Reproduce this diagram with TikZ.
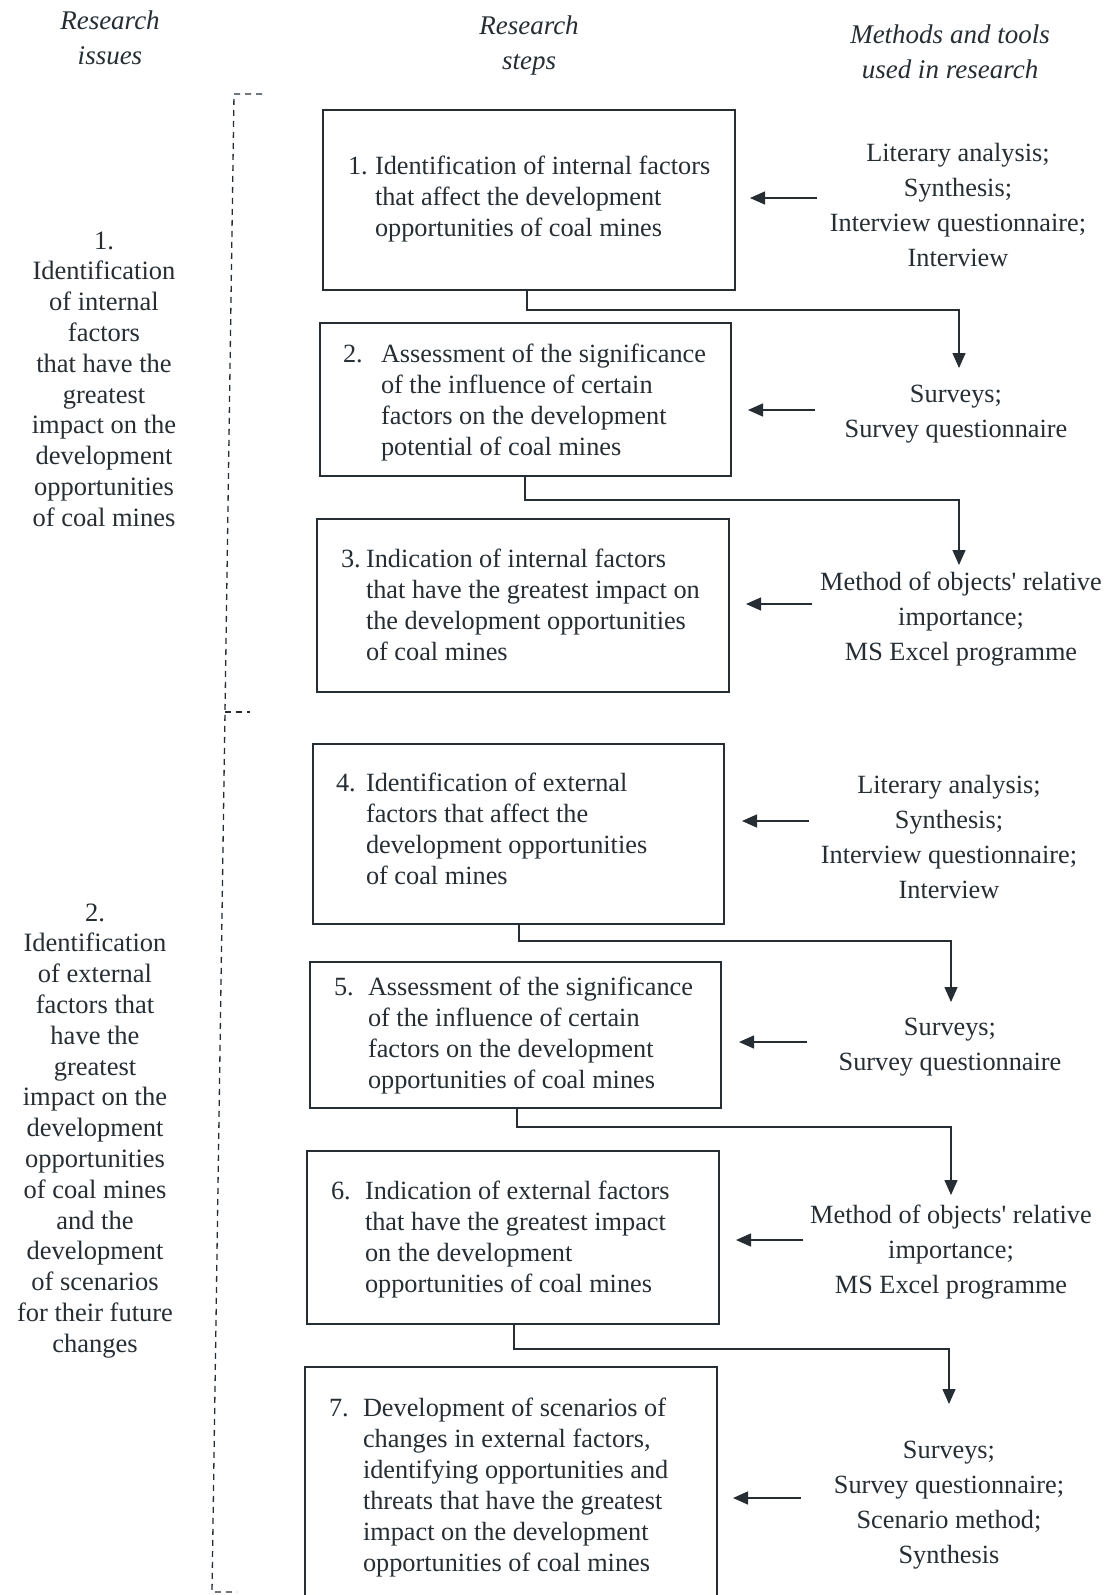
\documentclass[tikz,border=0pt]{standalone}
\usepackage{fontspec}
\setmainfont{Liberation Serif}
\usetikzlibrary{arrows.meta}
\definecolor{ink}{RGB}{38,46,52}
\begin{document}
\begin{tikzpicture}[x=1pt,y=-1pt,
  every node/.style={inner sep=0pt,outer sep=0pt,text=ink},
  stepbox/.style={draw=ink,line width=1.8pt,fill=none},
  body/.style={font=\fontsize{26.3}{31}\selectfont,anchor=base west},
  issue/.style={font=\fontsize{26.5}{30.8}\selectfont,anchor=base},
  tool/.style={font=\fontsize{26.3}{35}\selectfont,anchor=base},
  head/.style={font=\itshape\fontsize{27}{35}\selectfont,anchor=base},
  conn/.style={draw=ink,line width=1.4pt,-{Triangle[length=15pt,width=13pt]}},
  bracket/.style={draw=ink,line width=1.3pt,dash pattern=on 6pt off 5pt}]
\clip (0,0) rectangle (1110,1595);
\fill[white] (0,0) rectangle (1110,1595);

% column headings
\node[head] (h1) at (110,30) {\begin{tabular}[t]{@{}c@{}}Research\\issues\end{tabular}};
\node[head] (h2) at (529,35) {\begin{tabular}[t]{@{}c@{}}Research\\steps\end{tabular}};
\node[head] (h3) at (950,44) {\begin{tabular}[t]{@{}c@{}}Methods and tools\\used in research\end{tabular}};

% research issues
\node[issue] (i1) at (104,249) {\begin{tabular}[t]{@{}c@{}}1.\\Identification\\of internal\\factors\\that have the\\greatest\\impact on the\\development\\opportunities\\of coal mines\end{tabular}};
\node[issue] (i2) at (95,921) {\begin{tabular}[t]{@{}c@{}}2.\\Identification\\of external\\factors that\\have the\\greatest\\impact on the\\development\\opportunities\\of coal mines\\and the\\development\\of scenarios\\for their future\\changes\end{tabular}};

% dashed brackets grouping the steps
\draw[bracket] (262,94) -- (234,94) -- (225,712) -- (212,1592) -- (237,1592);
\draw[bracket] (225,712) -- (250,712);

% research step boxes
\node[stepbox,minimum width=412pt,minimum height=180pt] (b1) at (529,200) {};
\node[stepbox,minimum width=411pt,minimum height=153pt] (b2) at (525.5,399.5) {};
\node[stepbox,minimum width=412pt,minimum height=173pt] (b3) at (523,605.5) {};
\node[stepbox,minimum width=411pt,minimum height=180pt] (b4) at (518.5,834) {};
\node[stepbox,minimum width=411pt,minimum height=146pt] (b5) at (515.5,1035) {};
\node[stepbox,minimum width=412pt,minimum height=173pt] (b6) at (513,1237.5) {};
\node[stepbox,minimum width=412pt,minimum height=243pt] (b7) at (511,1488.5) {};

% step texts
\node[body] (n1) at (348,174) {1.};
\node[body] (s1) at (375,174) {\begin{tabular}[t]{@{}l@{}}Identification of internal factors\\that affect the development\\opportunities of coal mines\end{tabular}};
\node[body] (n2) at (343,362) {2.};
\node[body] (s2) at (381,362) {\begin{tabular}[t]{@{}l@{}}Assessment of the significance\\of the influence of certain\\factors on the development\\potential of coal mines\end{tabular}};
\node[body] (n3) at (341,567) {3.};
\node[body] (s3) at (366,567) {\begin{tabular}[t]{@{}l@{}}Indication of internal factors\\that have the greatest impact on\\the development opportunities\\of coal mines\end{tabular}};
\node[body] (n4) at (336,791) {4.};
\node[body] (s4) at (366,791) {\begin{tabular}[t]{@{}l@{}}Identification of external\\factors that affect the\\development opportunities\\of coal mines\end{tabular}};
\node[body] (n5) at (334,995) {5.};
\node[body] (s5) at (368,995) {\begin{tabular}[t]{@{}l@{}}Assessment of the significance\\of the influence of certain\\factors on the development\\opportunities of coal mines\end{tabular}};
\node[body] (n6) at (331,1199) {6.};
\node[body] (s6) at (365,1199) {\begin{tabular}[t]{@{}l@{}}Indication of external factors\\that have the greatest impact\\on the development\\opportunities of coal mines\end{tabular}};
\node[body] (n7) at (329,1416) {7.};
\node[body] (s7) at (363,1416) {\begin{tabular}[t]{@{}l@{}}Development of scenarios of\\changes in external factors,\\identifying opportunities and\\threats that have the greatest\\impact on the development\\opportunities of coal mines\end{tabular}};

% methods and tools
\node[tool] (m1) at (958,161) {\begin{tabular}[t]{@{}c@{}}Literary analysis;\\Synthesis;\\Interview questionnaire;\\Interview\end{tabular}};
\node[tool] (m2) at (956,402) {\begin{tabular}[t]{@{}c@{}}Surveys;\\Survey questionnaire\end{tabular}};
\node[tool] (m3) at (961,590) {\begin{tabular}[t]{@{}c@{}}Method of objects\textquotesingle\ relative\\importance;\\MS Excel programme\end{tabular}};
\node[tool] (m4) at (949,793) {\begin{tabular}[t]{@{}c@{}}Literary analysis;\\Synthesis;\\Interview questionnaire;\\Interview\end{tabular}};
\node[tool] (m5) at (950,1035) {\begin{tabular}[t]{@{}c@{}}Surveys;\\Survey questionnaire\end{tabular}};
\node[tool] (m6) at (951,1223) {\begin{tabular}[t]{@{}c@{}}Method of objects\textquotesingle\ relative\\importance;\\MS Excel programme\end{tabular}};
\node[tool] (m7) at (949,1458) {\begin{tabular}[t]{@{}c@{}}Surveys;\\Survey questionnaire;\\Scenario method;\\Synthesis\end{tabular}};

% arrow tips above the method blocks
\coordinate (t2) at (959,368);
\coordinate (t3) at (959,565);
\coordinate (t5) at (951,1002);
\coordinate (t6) at (951,1195);
\coordinate (t7) at (949,1404);

% step-to-next-method connectors
\draw[conn] (b1.south -| 527,0) |- (959,310) -- (t2);
\draw[conn] (b2.south -| 525,0) |- (959,500) -- (t3);
\draw[conn] (b4.south -| 519,0) |- (951,941) -- (t5);
\draw[conn] (b5.south -| 517,0) |- (951,1127) -- (t6);
\draw[conn] (b6.south -| 514,0) |- (949,1349) -- (t7);

% method-to-step arrows
\coordinate (a1) at (817,198);
\coordinate (a2) at (815,410);
\coordinate (a3) at (812,604);
\coordinate (a4) at (809,821);
\coordinate (a5) at (807,1042);
\coordinate (a6) at (803,1240);
\coordinate (a7) at (801,1498);
\draw[conn] (a1) -- ([xshift=15pt]b1.east |- a1);
\draw[conn] (a2) -- ([xshift=17pt]b2.east |- a2);
\draw[conn] (a3) -- ([xshift=17pt]b3.east |- a3);
\draw[conn] (a4) -- ([xshift=18pt]b4.east |- a4);
\draw[conn] (a5) -- ([xshift=18pt]b5.east |- a5);
\draw[conn] (a6) -- ([xshift=17pt]b6.east |- a6);
\draw[conn] (a7) -- ([xshift=16pt]b7.east |- a7);
\end{tikzpicture}
\end{document}
